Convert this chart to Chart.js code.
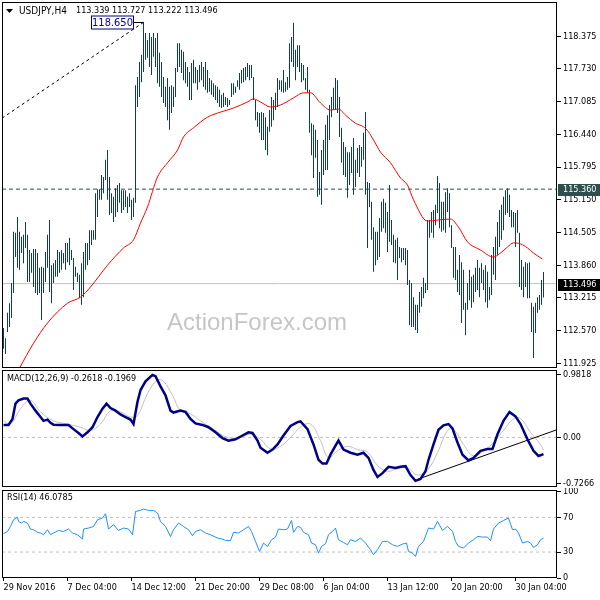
<!DOCTYPE html>
<html>
<head>
<meta charset="utf-8">
<script src="https://cdn.jsdelivr.net/npm/chart.js@4"></script>
<style>
  body { margin: 0; background: #fff; }
  .pane { position: absolute; left: 0; }
</style>
</head>
<body>
<div class="pane" style="top:0"><canvas id="price_chart" width="600" height="370"></canvas></div>
<div class="pane" style="top:368px"><canvas id="macd_chart" width="600" height="122"></canvas></div>
<div class="pane" style="top:488px"><canvas id="rsi_chart" width="600" height="112"></canvas></div>
<script>
// USDJPY H4 bars, one per index (high / low)
const highs = [
  112.62,112.42,112.92,113.11,113.51,114.52,114.50,114.81,114.52,114.42,114.46,114.71,114.46,114.16,114.10,114.18,114.18,114.10,113.81,113.83,
  113.81,114.12,114.46,114.75,113.86,113.90,113.96,114.16,114.12,114.16,114.10,114.30,114.30,114.40,114.16,114.00,113.83,113.71,113.67,113.90,
  114.12,114.30,114.30,114.55,114.55,114.55,115.28,115.36,115.36,115.64,115.60,115.94,116.13,115.60,115.28,115.21,115.38,115.44,115.48,115.34,
  115.34,115.34,115.21,115.28,115.15,115.19,117.41,117.57,117.87,118.01,118.65,118.44,118.30,118.44,118.36,118.44,118.34,118.44,118.05,117.87,
  117.57,117.38,117.55,117.38,117.41,117.38,117.75,118.24,118.24,118.11,118.07,117.87,117.77,117.67,117.85,117.91,117.77,117.71,117.81,117.87,
  117.77,117.87,117.71,117.55,117.51,117.45,117.41,117.38,117.32,117.22,117.26,117.18,117.16,117.12,117.45,117.45,117.38,117.51,117.65,117.71,
  117.75,117.77,117.85,117.81,117.81,117.57,117.12,116.88,116.86,116.88,116.86,116.78,116.59,116.92,117.18,117.12,117.26,117.55,117.51,117.51,
  117.71,117.47,117.57,118.24,118.36,118.64,118.11,118.20,118.20,117.85,117.81,117.55,117.77,117.32,116.66,116.63,116.53,116.33,115.70,116.13,
  116.33,116.63,116.82,117.02,117.18,117.36,117.55,117.51,117.18,116.57,116.29,116.19,116.09,116.09,116.19,116.37,115.94,116.17,116.23,116.19,
  116.47,116.88,115.50,115.48,115.11,114.61,114.52,114.52,114.79,115.11,115.17,115.09,114.91,115.44,114.75,114.46,114.36,114.40,114.22,114.20,
  114.20,114.20,114.16,113.57,113.51,113.23,113.08,113.08,113.33,113.43,113.61,113.51,114.75,114.75,114.91,114.95,115.05,115.62,115.48,115.11,
  115.11,115.30,115.38,115.28,114.65,114.22,114.22,113.77,114.06,113.92,113.77,113.12,113.51,113.77,113.63,113.67,113.81,113.96,113.81,113.90,
  113.77,113.86,113.73,113.43,114.06,114.22,114.42,114.71,114.95,115.05,115.21,115.34,115.38,115.25,114.95,114.91,114.89,114.95,114.50,113.96,
  113.83,113.92,113.90,113.92,113.12,113.04,113.12,113.23,113.27,113.57,113.727
];
const lows = [
  112.21,112.11,112.54,112.64,112.82,113.31,114.02,113.81,113.77,114.10,113.90,114.20,113.53,113.53,113.71,113.43,113.31,113.27,113.31,112.78,
  113.31,113.53,113.81,113.33,113.11,113.51,113.63,113.63,113.71,113.77,113.90,113.77,113.92,113.86,113.96,113.37,113.63,113.53,113.21,113.08,
  113.23,113.77,113.86,113.96,114.26,114.36,114.36,114.81,115.15,115.15,115.28,115.54,115.15,114.85,114.89,114.71,114.81,114.91,115.09,114.89,
  114.95,115.01,114.89,115.01,114.75,114.81,115.09,116.98,117.18,117.47,117.67,117.91,117.95,117.77,117.61,117.97,117.77,117.45,117.38,117.18,
  117.06,116.98,116.72,116.53,116.86,116.98,117.18,117.67,117.77,117.65,117.51,117.45,117.38,117.12,117.12,117.45,117.45,117.32,117.47,117.51,
  117.38,117.32,117.26,117.28,117.22,117.18,117.12,117.06,116.98,116.96,116.98,117.02,116.98,117.02,117.18,117.22,117.26,117.38,117.32,117.45,
  117.47,117.51,117.57,117.51,117.55,117.12,116.72,116.59,116.47,116.33,116.33,116.13,116.03,116.49,116.59,116.72,116.92,116.98,117.32,117.28,
  117.26,117.28,117.32,117.36,117.87,117.77,117.51,117.77,117.67,117.47,117.51,117.32,117.26,116.47,116.03,115.58,115.98,115.21,115.25,115.05,
  115.64,115.74,115.74,116.33,116.78,116.92,116.92,116.86,116.39,115.88,115.64,115.60,115.19,115.44,115.68,115.25,115.40,115.68,115.60,115.80,
  115.94,115.25,114.20,115.01,114.36,113.73,113.86,113.96,114.02,114.52,114.59,114.50,114.12,114.32,114.26,113.92,113.90,113.57,114.00,113.92,
  113.96,113.86,113.47,112.68,112.64,112.64,112.58,112.52,112.92,113.04,113.21,113.31,113.37,114.40,114.50,114.40,114.65,114.89,114.59,114.52,
  114.55,114.50,114.91,114.61,114.20,113.61,113.57,113.33,113.27,112.72,112.98,112.48,112.98,113.17,113.02,113.13,113.33,113.37,113.23,113.51,
  113.37,113.13,113.02,113.17,113.27,113.67,113.57,114.06,114.22,114.36,114.55,114.85,114.89,114.81,114.61,114.61,114.22,114.50,113.43,113.37,
  113.23,113.43,113.21,113.21,112.54,112.03,112.52,112.92,112.98,113.08,113.222
];

// red moving average (bar index / value)
const maIdx  = [8,15,22,32,38.5,43.5,52,60,65,68.5,72,77,82,87,90,95,102,108.5,115,122,125,128.5,133.5,138.5,145,150,153.5,158.5,163.5,167.5,171,176,180,182.5,185,188.5,193.5,198.5,202,205,212,217,223.5,227.5,232,238.5,245,248.5,252,255,258.5,262,265,269.5];
const maVals = [111.83,112.32,112.72,113.11,113.23,113.43,113.86,114.20,114.36,114.69,115.01,115.60,115.88,116.13,116.39,116.57,116.78,116.88,116.96,117.08,117.14,117.08,116.98,117.02,117.16,117.26,117.26,117.06,116.92,116.94,116.82,116.66,116.59,116.49,116.33,116.09,115.88,115.58,115.44,115.15,114.73,114.75,114.77,114.61,114.32,114.16,114.02,114.10,114.22,114.30,114.28,114.20,114.10,113.98];

// dashed trendline to the 118.650 high
const trendIdx = [-0.75, 70];
const trendVals = [116.76, 118.65];
const levelValue = 115.360;
const lastPrice = 113.496;
const priceTicks = [111.925,112.570,113.215,113.860,114.505,115.150,115.795,116.440,117.085,117.730,118.375];

// MACD(12,26,9)
const macdIdx  = [0,2.5,4.5,6,7.5,10,12,13.5,16,18.5,20,22,23.5,25,28.5,32.5,35,37.5,39.5,42,44.5,47,49.5,51.5,53.5,56,58.5,61,63.5,65,67,68.5,71,74.5,76,78.5,81,83.5,85,88.5,91,93.5,96,99.5,102.5,106,109.5,112.5,116,119.5,122.5,124.5,127,128.5,132,134.5,137,140,143.5,147,148.5,152,155,157.5,159.5,161.5,163.5,166,167.5,170,173.5,177,180,182.5,185,187,189.5,192.5,196,198.5,201,203.5,206,208.5,211,212.5,215,217.5,220,222.5,224.5,227,229.5,232.5,235,238.5,242,244.5,247,250,253,256,258.5,262,265,267.5,270];
const macdVals = [0.196,0.196,0.29,0.53,0.58,0.61,0.61,0.53,0.42,0.32,0.26,0.28,0.23,0.20,0.196,0.196,0.13,0.07,0.016,0.08,0.16,0.32,0.45,0.53,0.46,0.42,0.36,0.32,0.28,0.21,0.56,0.74,0.88,0.98,0.96,0.80,0.66,0.42,0.39,0.42,0.40,0.29,0.22,0.196,0.16,0.08,-0.01,-0.05,-0.03,0.03,0.08,0.07,-0.05,-0.16,-0.24,-0.19,-0.11,0.03,0.18,0.24,0.25,0.13,-0.11,-0.35,-0.41,-0.41,-0.27,-0.13,-0.05,-0.19,-0.24,-0.27,-0.24,-0.32,-0.51,-0.62,-0.56,-0.46,-0.48,-0.46,-0.45,-0.59,-0.68,-0.65,-0.53,-0.35,-0.11,0.12,0.19,0.21,0.14,-0.08,-0.27,-0.36,-0.32,-0.21,-0.18,-0.18,0.05,0.26,0.40,0.33,0.21,-0.03,-0.21,-0.29,-0.2618];
const sigIdx  = [0,3.5,8.5,13.5,18.5,25,32,38.5,43.5,48.5,53.5,58.5,63.5,67,72,77,80,84.5,88.5,93.5,98.5,105,112,118.5,123.5,128.5,133.5,138.5,143.5,148.5,153.5,158.5,162.5,167,172,177,182,187,192,197,202,207,212,217,222,225,230,235,240,245,250,255,258.5,263.5,268.5,270];
const sigVals = [0.26,0.21,0.45,0.58,0.40,0.26,0.21,0.16,0.11,0.21,0.42,0.40,0.32,0.34,0.69,0.90,0.88,0.66,0.42,0.37,0.26,0.13,0.0,0.0,0.05,-0.03,-0.18,-0.14,0.0,0.16,0.21,-0.05,-0.32,-0.21,-0.14,-0.19,-0.23,-0.44,-0.53,-0.49,-0.48,-0.59,-0.51,-0.24,0.11,0.13,-0.11,-0.29,-0.21,-0.08,0.11,0.29,0.30,0.08,-0.11,-0.1969];
const macdTrendIdx = [207.25, 276.75];
const macdTrendVals = [-0.654, 0.121];
const macdTicks = [-0.7266, 0, 0.9818];

// RSI(14)
const rsiIdx  = [0,2,3.5,5,7,7.5,9,10,12,13.5,15,17,18.5,20,22,23.5,25,27.5,30,32.5,34.5,37,39.5,40,42.5,45,47,49.5,51,52.5,55,57.5,60,62.5,64.5,66,68.5,70,72.5,75,77,78.5,81,83.5,85,87.5,90,92.5,94.5,96,98.5,101,103.5,107,109.5,111,113.5,115,117.5,120,122.5,124,126,128,130,132,134,136,137.5,140,142,144,145,147,148.5,150,152.5,154,156,157.5,159,161,162.5,164.5,166,167.5,170,172,173.5,176,178.5,181,183.5,185,187,189.5,192,194.5,197,199.5,201.5,202.5,204.5,206,207.5,210,212.5,215,217,219.5,222,224.5,226,227.5,230,232.5,235,237,239.5,242,243.5,245,247.5,250,252.5,254.5,256,257.5,259.5,262,263.5,265,267,268.5,270];
const rsiVals = [51.2,53.8,59.6,67.3,70.4,65.4,63.5,65.4,63.5,56.6,55.8,52.7,52.0,50.0,55.8,50.0,52.0,55.0,53.8,56.6,52.0,50.0,45.0,56.6,57.7,59.6,67.3,69.3,74.3,56.6,61.6,55.0,57.7,56.6,50.0,76.9,78.1,79.7,78.1,78.1,75.1,65.4,59.6,48.0,55.8,63.5,59.6,55.8,48.8,53.8,55.8,52.0,50.0,46.2,45.0,43.4,43.4,52.7,52.0,55.8,59.6,53.8,42.3,30.7,40.4,36.5,44.2,47.3,56.6,55.8,56.6,66.5,52.7,59.6,58.5,52.7,50.0,40.4,38.4,28.8,36.5,39.6,50.0,53.8,57.7,44.2,41.1,38.4,44.2,42.3,46.2,40.4,32.7,26.9,32.7,42.3,42.3,38.4,36.5,39.2,40.4,30.7,28.8,24.9,36.5,42.3,57.7,56.6,65.4,55.0,59.6,53.8,42.3,36.5,34.6,40.4,44.2,48.0,47.3,47.3,43.1,56.6,63.5,66.5,69.3,55.8,56.6,52.0,40.4,42.3,40.4,35.3,38.4,44.2,46.0785];
const rsiTicks = [0, 30, 70, 100];

// time axis
const dateIdx = [0,32,64,96,128,160,192,224,256];
const dateLabels = ['29 Nov 2016','7 Dec 04:00','14 Dec 12:00','21 Dec 20:00','29 Dec 08:00','6 Jan 04:00','13 Jan 12:00','20 Jan 20:00','30 Jan 04:00'];

const FONT_FAMILY = '"DejaVu Sans Condensed", "Liberation Sans", sans-serif';
const tickFont = {family: FONT_FAMILY, size: 9};
const X_MIN = -0.75, X_MAX = 276.75;

const pts = (xs, ys) => xs.map((x, i) => ({x: x, y: ys[i]}));
const flat = v => [{x: X_MIN, y: v}, {x: X_MAX, y: v}];

function rightAxis(min, max, ticks, fmt) {
  return {
    position: 'right', min: min, max: max,
    afterBuildTicks: s => { s.ticks = ticks.map(v => ({value: v})); },
    // fixed width, and no extra room for the end labels
    afterFit: s => { s.width = 43; s.paddingTop = 0; s.paddingBottom = 0; },
    border: {display: false},
    grid: {drawOnChartArea: false, tickLength: 4, color: '#000'},
    ticks: {padding: 2, color: '#000', font: tickFont, autoSkip: false, callback: fmt}
  };
}

const hiddenX = {type: 'linear', display: false, min: X_MIN, max: X_MAX, offset: false};

const frame = {
  id: 'frame',
  afterDraw(chart) {
    const {ctx, chartArea: a} = chart;
    ctx.save();
    ctx.strokeStyle = '#000';
    ctx.lineWidth = 1;
    ctx.strokeRect(a.left + 0.5, a.top + 0.5, a.right - a.left - 1, a.bottom - a.top - 1);
    ctx.restore();
  }
};

function title(ctx, text, x, y, size) {
  ctx.font = (size || 9) + 'px ' + FONT_FAMILY;
  ctx.fillStyle = '#000';
  ctx.textBaseline = 'middle';
  ctx.textAlign = 'left';
  ctx.fillText(text, x, y);
}

function valueBox(ctx, y, text, bg) {
  ctx.fillStyle = bg;
  ctx.fillRect(558, Math.round(y) - 5, 42, 12);
  ctx.fillStyle = '#fff';
  ctx.font = '9px ' + FONT_FAMILY;
  ctx.textBaseline = 'middle';
  ctx.textAlign = 'left';
  ctx.fillText(text, 563, Math.round(y) + 1);
}

const priceDecor = {
  id: 'priceDecor',
  beforeDatasetsDraw(chart) {
    const ctx = chart.ctx;
    ctx.save();
    ctx.font = '24px "Liberation Sans", Arial, sans-serif';
    ctx.fillStyle = '#c6c6c6';
    ctx.textBaseline = 'alphabetic';
    ctx.fillText('ActionForex.com', 167, 330);
    ctx.restore();
  },
  afterDraw(chart) {
    const ctx = chart.ctx, xs = chart.scales.x, ys = chart.scales.y;
    ctx.save();
    // header
    ctx.fillStyle = '#000';
    ctx.beginPath();
    ctx.moveTo(6, 9); ctx.lineTo(13, 9); ctx.lineTo(9.5, 13); ctx.closePath();
    ctx.fill();
    title(ctx, 'USDJPY,H4', 19, 11, 10);
    title(ctx, '113.339 113.727 113.222 113.496', 76, 11);
    // axis value boxes
    valueBox(ctx, ys.getPixelForValue(levelValue), levelValue.toFixed(3), '#2f4f4f');
    valueBox(ctx, ys.getPixelForValue(lastPrice), lastPrice.toFixed(3), '#000');
    // 118.650 high label
    const hx = xs.getPixelForValue(trendIdx[1]);
    const hy = Math.round(ys.getPixelForValue(trendVals[1])) + 0.5;
    const bx = Math.round(hx) - 52.5;
    ctx.strokeStyle = '#000';
    ctx.beginPath(); ctx.moveTo(bx + 42, hy); ctx.lineTo(hx, hy); ctx.stroke();
    ctx.fillStyle = '#fff';
    ctx.fillRect(bx, hy - 6.5, 42, 13);
    ctx.strokeStyle = '#000080';
    ctx.strokeRect(bx, hy - 6.5, 42, 13);
    ctx.font = '11px ' + FONT_FAMILY;
    ctx.fillStyle = '#0000a0';
    ctx.textAlign = 'center';
    ctx.textBaseline = 'middle';
    ctx.fillText(trendVals[1].toFixed(3), bx + 21, hy + 0.5);
    ctx.restore();
  }
};

new Chart(document.getElementById('price_chart'), {
  type: 'bar',
  data: {
    datasets: [
      {type: 'line', data: pts(maIdx, maVals), borderColor: '#ff0000', borderWidth: 1, pointRadius: 0, cubicInterpolationMode: 'monotone', order: 1},
      {type: 'line', data: pts(trendIdx, trendVals), borderColor: '#000', borderWidth: 1, borderDash: [3, 3], pointRadius: 0, order: 2},
      {data: highs.map((h, i) => ({x: i, y: [lows[i], h]})), backgroundColor: '#0f3d5c', barThickness: 1, inflateAmount: 0, borderWidth: 0, order: 3},
      {type: 'line', data: flat(levelValue), borderColor: '#2f4f4f', borderWidth: 1, borderDash: [4, 3], pointRadius: 0, order: 4},
      {type: 'line', data: flat(lastPrice), borderColor: '#c0c0c0', borderWidth: 1, pointRadius: 0, order: 5}
    ]
  },
  options: {
    responsive: false,
    animation: false,
    layout: {padding: {left: 2, top: 2, bottom: 2}},
    plugins: {legend: {display: false}, tooltip: {enabled: false}},
    scales: {
      x: hiddenX,
      y: rightAxis(111.832, 119.0515, priceTicks, v => v.toFixed(3))
    }
  },
  plugins: [frame, priceDecor]
});

new Chart(document.getElementById('macd_chart'), {
  type: 'line',
  data: {
    datasets: [
      {data: pts(macdIdx, macdVals), borderColor: '#000088', borderWidth: 2.5, pointRadius: 0, order: 1},
      {data: pts(macdTrendIdx, macdTrendVals), borderColor: '#000', borderWidth: 1, pointRadius: 0, order: 2},
      {data: pts(sigIdx, sigVals), borderColor: '#c0c0c0', borderWidth: 1, pointRadius: 0, tension: 0.4, order: 3},
      {data: flat(0), borderColor: '#c0c0c0', borderWidth: 1, borderDash: [3, 3], pointRadius: 0, order: 4}
    ]
  },
  options: {
    responsive: false,
    animation: false,
    layout: {padding: {left: 2, top: 2, bottom: 3}},
    plugins: {legend: {display: false}, tooltip: {enabled: false}},
    scales: {
      x: hiddenX,
      y: rightAxis(-0.7767, 1.0568, macdTicks, v => v === 0 ? '0.00' : v.toFixed(4))
    }
  },
  plugins: [frame, {
    id: 'macdTitle',
    afterDraw(chart) {
      chart.ctx.save();
      title(chart.ctx, 'MACD(12,26,9) -0.2618 -0.1969', 7, 11);
      chart.ctx.restore();
    }
  }]
});

new Chart(document.getElementById('rsi_chart'), {
  type: 'line',
  data: {
    datasets: [
      {data: pts(rsiIdx, rsiVals), borderColor: '#1e90ff', borderWidth: 1, pointRadius: 0, order: 1},
      {data: flat(70), borderColor: '#c0c0c0', borderWidth: 1, borderDash: [3, 3], pointRadius: 0, order: 2},
      {data: flat(30), borderColor: '#c0c0c0', borderWidth: 1, borderDash: [3, 3], pointRadius: 0, order: 3}
    ]
  },
  options: {
    responsive: false,
    animation: false,
    layout: {padding: {left: 2, top: 2, bottom: 0}},
    plugins: {legend: {display: false}, tooltip: {enabled: false}},
    scales: {
      x: {
        type: 'linear', min: X_MIN, max: X_MAX, offset: false,
        afterBuildTicks: s => { s.ticks = dateIdx.map(v => ({value: v})); },
        afterFit: s => { s.height = 22; s.paddingLeft = 0; s.paddingRight = 0; },
        border: {display: false},
        grid: {drawOnChartArea: false, tickLength: 3, color: '#000'},
        ticks: {align: 'start', padding: 1, maxRotation: 0, minRotation: 0, autoSkip: false,
                color: '#000', font: tickFont, callback: (v, i) => dateLabels[i]}
      },
      y: rightAxis(0, 101.7, rsiTicks, v => String(v))
    }
  },
  plugins: [frame, {
    id: 'rsiTitle',
    afterDraw(chart) {
      chart.ctx.save();
      title(chart.ctx, 'RSI(14) 46.0785', 7, 10);
      chart.ctx.restore();
    }
  }]
});
</script>
</body>
</html>
